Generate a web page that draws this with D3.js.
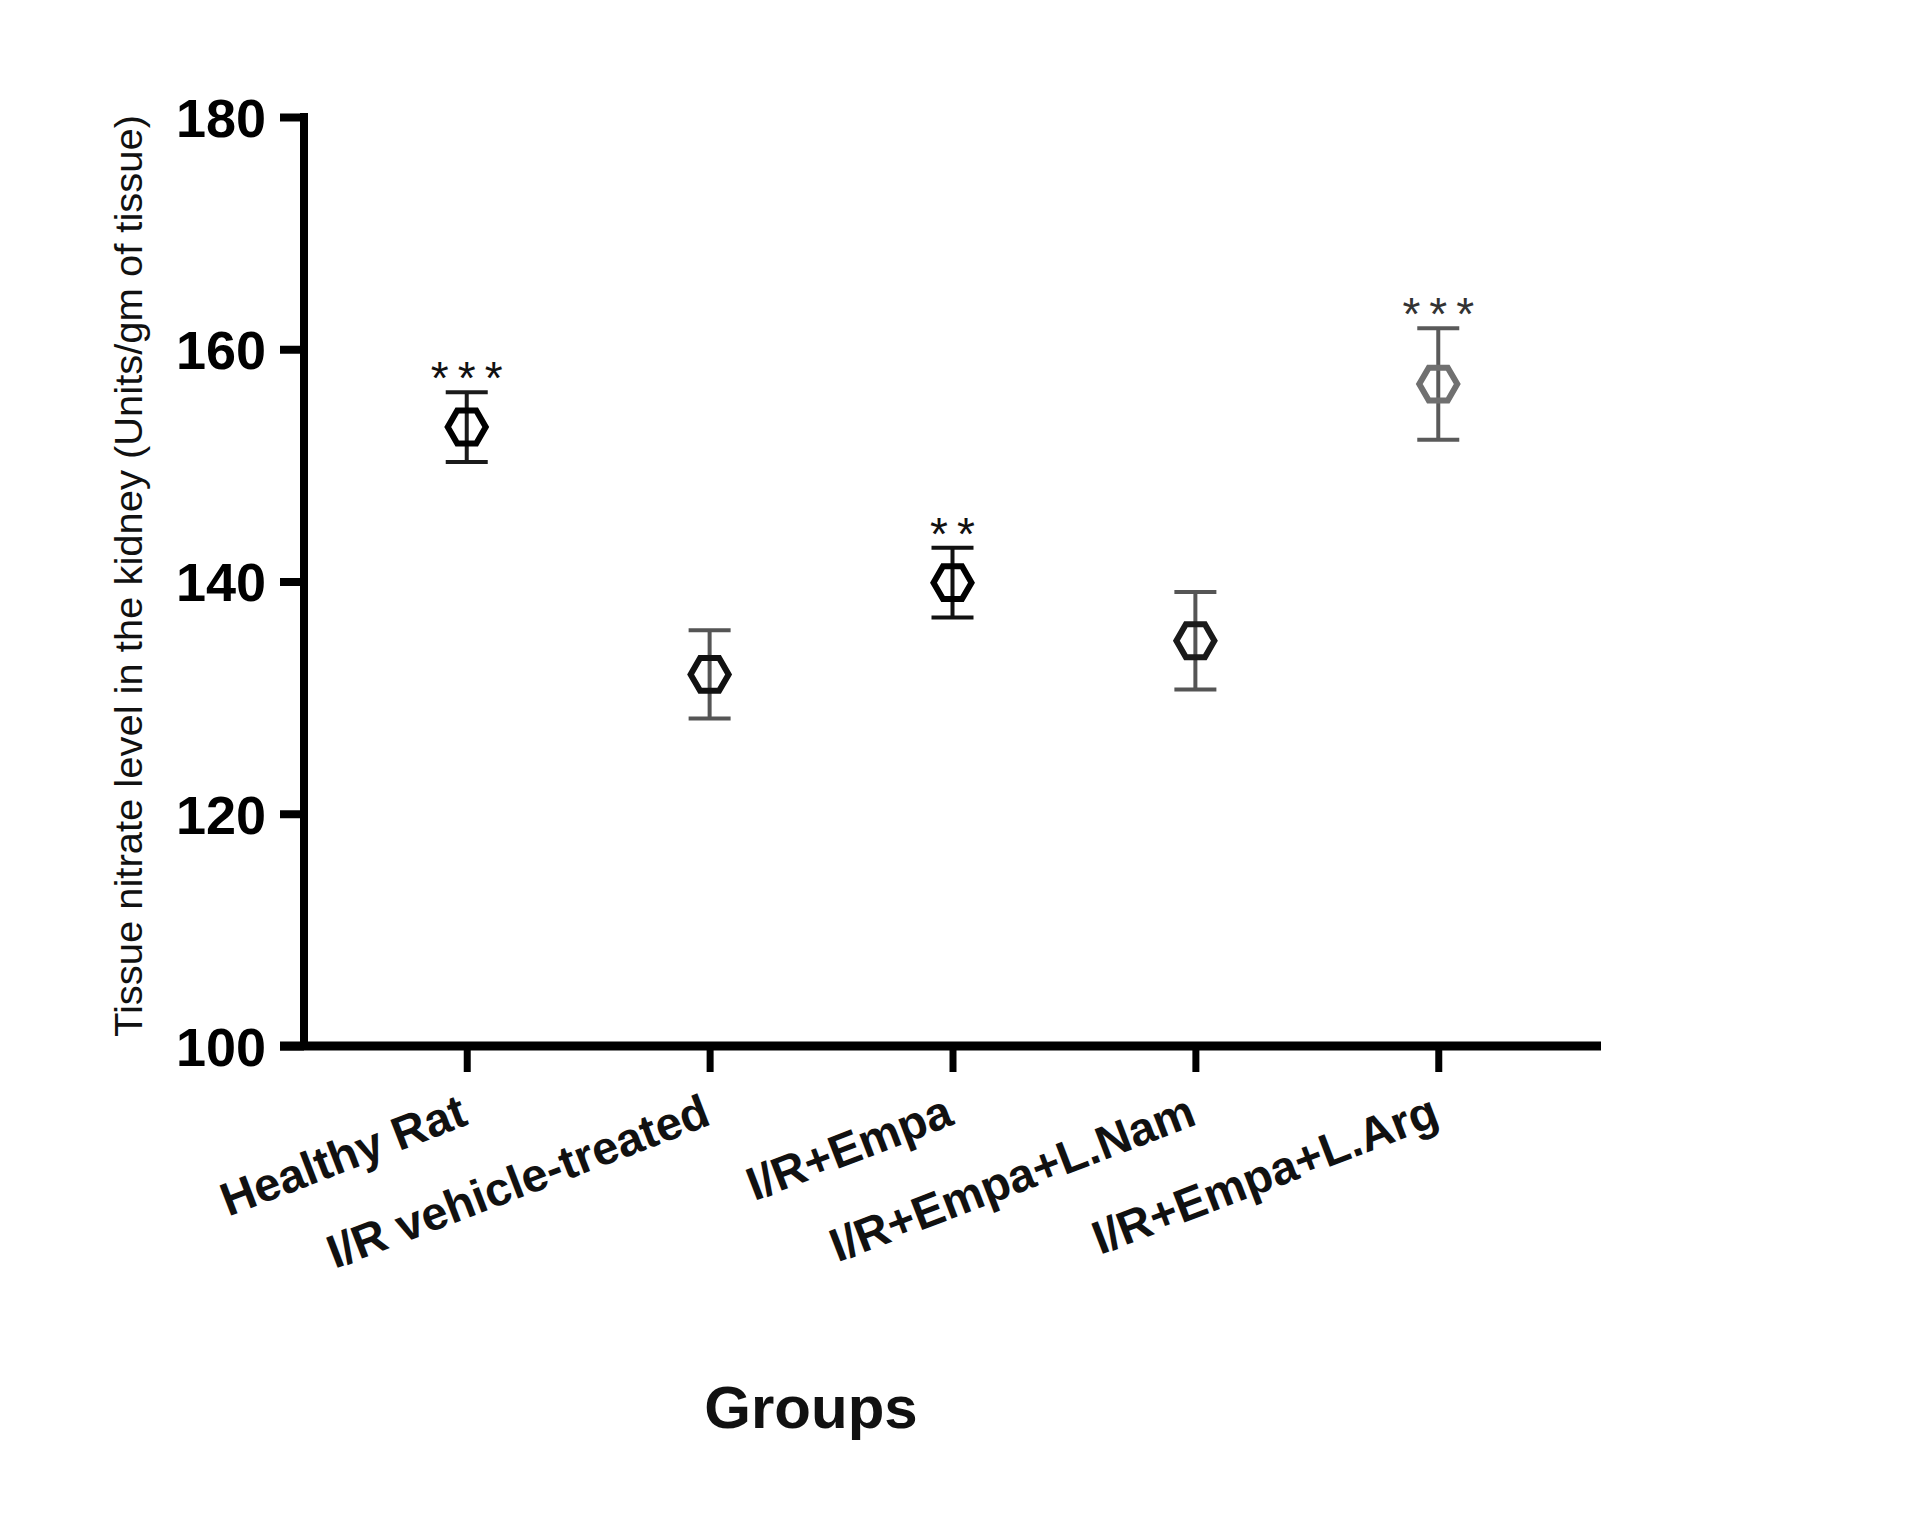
<!DOCTYPE html>
<html>
<head>
<meta charset="utf-8">
<title>Tissue nitrate</title>
<script src="https://cdn.jsdelivr.net/npm/d3@7"></script>
<style>
  body { margin: 0; background: #fff; }
  text { font-family: Arial, "Liberation Sans", sans-serif; }
</style>
</head>
<body>
<script>
// groups and values (mean ± SEM)
var groups = ["Healthy Rat", "I/R vehicle-treated", "I/R+Empa", "I/R+Empa+L.Nam", "I/R+Empa+L.Arg"];
var means = [153.3, 132.0, 139.9, 134.9, 157.0];
var sems = [3.0, 3.8, 3.0, 4.2, 4.8];
var stars = ["***", "", "**", "", "***"];
var yTicks = [100, 120, 140, 160, 180];
var markerColors = ["#000", "#111", "#000", "#1a1a1a", "#707070"];
var barColors = ["#1a1a1a", "#555", "#111", "#555", "#5a5a5a"];

var width = 1913, height = 1533;
var svg = d3.select("body").append("svg")
    .attr("width", width)
    .attr("height", height);

var axisX = 304, axisY = 1046, plotRight = 1601, plotTop = 117;

var x = d3.scalePoint()
    .domain(groups)
    .range([axisX, plotRight])
    .padding(0.67);

var y = d3.scaleLinear()
    .domain([100, 180])
    .range([axisY, plotTop]);

// y axis
var yAxis = svg.append("g")
    .attr("transform", "translate(" + axisX + ",0)")
    .call(d3.axisLeft(y).tickValues(yTicks).tickSize(24).tickSizeOuter(0).tickPadding(14));
yAxis.select(".domain").attr("stroke", "#000").attr("stroke-width", 8)
    .attr("d", "M0," + (plotTop - 4) + "V" + axisY);
yAxis.selectAll(".tick line").attr("stroke", "#000").attr("stroke-width", 8);
yAxis.selectAll(".tick text")
    .attr("font-size", 54).attr("font-weight", "bold").attr("fill", "#000")
    .attr("dy", "0.36em");

// x axis
var xAxis = svg.append("g")
    .attr("transform", "translate(0," + axisY + ")")
    .call(d3.axisBottom(x).tickSize(26).tickSizeOuter(0).tickFormat(""));
xAxis.select(".domain").attr("stroke", "#000").attr("stroke-width", 9)
    .attr("d", "M" + (axisX - 24) + ",0H" + plotRight);
xAxis.selectAll(".tick line").attr("stroke", "#000").attr("stroke-width", 7);

// rotated group labels
svg.append("g").selectAll("text")
    .data(groups)
    .enter()
    .append("text")
    .attr("transform", function (d) {
        return "translate(" + (x(d) + 3) + "," + (axisY + 78) + ") rotate(-21)";
    })
    .attr("text-anchor", "end")
    .attr("font-size", 47)
    .attr("font-weight", "bold")
    .attr("fill", "#111")
    .text(function (d) { return d; });

// axis titles
svg.append("text")
    .attr("transform", "translate(142,576) rotate(-90)")
    .attr("text-anchor", "middle")
    .attr("font-size", 38)
    .attr("textLength", 922)
    .attr("lengthAdjust", "spacingAndGlyphs")
    .attr("fill", "#111")
    .text("Tissue nitrate level in the kidney (Units/gm of tissue)");

svg.append("text")
    .attr("x", 811)
    .attr("y", 1428)
    .attr("text-anchor", "middle")
    .attr("font-size", 60)
    .attr("font-weight", "bold")
    .attr("fill", "#111")
    .text("Groups");

// error bars
var pts = svg.append("g").selectAll("g")
    .data(groups)
    .enter()
    .append("g");

pts.append("line")
    .attr("x1", function (d) { return x(d); })
    .attr("x2", function (d) { return x(d); })
    .attr("y1", function (d, i) { return y(means[i] + sems[i]); })
    .attr("y2", function (d, i) { return y(means[i] - sems[i]); })
    .attr("stroke", function (d, i) { return barColors[i]; })
    .attr("stroke-width", 4);

[1, -1].forEach(function (s) {
    pts.append("line")
        .attr("x1", function (d) { return x(d) - 21; })
        .attr("x2", function (d) { return x(d) + 21; })
        .attr("y1", function (d, i) { return y(means[i] + s * sems[i]); })
        .attr("y2", function (d, i) { return y(means[i] + s * sems[i]); })
        .attr("stroke", function (d, i) { return barColors[i]; })
        .attr("stroke-width", 4);
});

// hexagon markers
var r = 19;
var hex = d3.range(6).map(function (k) {
    var a = k * Math.PI / 3;
    return [r * Math.cos(a), r * Math.sin(a)];
});
pts.append("path")
    .attr("transform", function (d, i) { return "translate(" + x(d) + "," + y(means[i]) + ")"; })
    .attr("d", d3.line()(hex) + "Z")
    .attr("fill", "none")
    .attr("stroke", function (d, i) { return markerColors[i]; })
    .attr("stroke-width", 6);

// significance stars
pts.append("text")
    .attr("x", function (d) { return x(d) + 4.5; })
    .attr("y", function (d, i) { return y(means[i] + sems[i]) + 2; })
    .attr("text-anchor", "middle")
    .attr("font-size", 46)
    .attr("letter-spacing", 9)
    .attr("fill", function (d, i) { return i == 4 ? "#333" : "#111"; })
    .text(function (d, i) { return stars[i]; });
</script>
</body>
</html>
